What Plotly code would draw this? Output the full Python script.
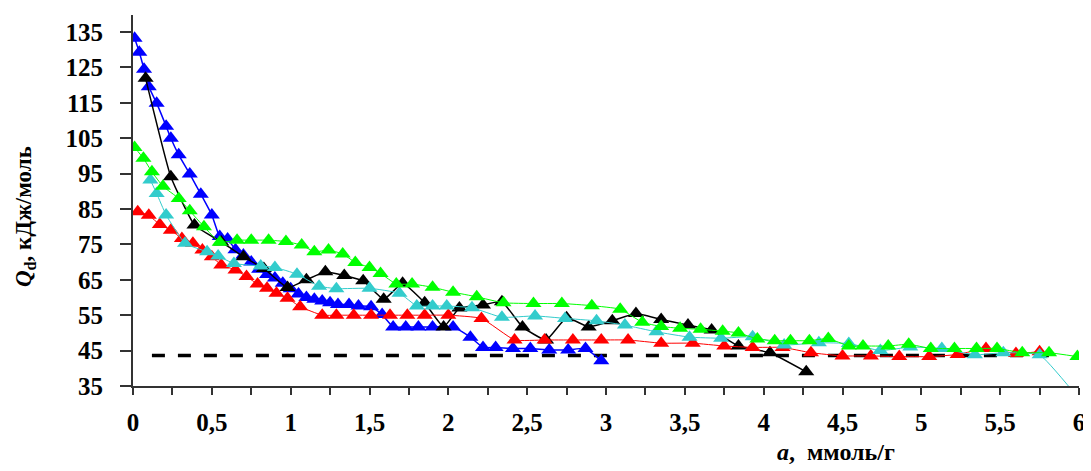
import plotly.graph_objects as go
import numpy as np

# ---- data ----
blue_a = [0.01, 0.04, 0.07, 0.10, 0.15, 0.21, 0.24, 0.29, 0.36, 0.43, 0.50, 0.55, 0.60, 0.65, 0.70,
          0.75, 0.80, 0.85, 0.90, 0.95, 1.00, 1.05, 1.10, 1.15, 1.20, 1.25, 1.30, 1.37, 1.43, 1.51,
          1.58, 1.65, 1.73, 1.81, 1.90, 2.03, 2.14, 2.22, 2.30, 2.41, 2.52, 2.64, 2.76, 2.87, 2.97]
blue_q = [133.2, 129.3, 124.5, 119.5, 114.9, 108.4, 105.0, 100.3, 94.9, 89.2, 83.3, 77.2, 76.5, 73.5, 72.0,
          70.0, 68.0, 66.5, 65.5, 64.0, 62.5, 61.0, 60.0, 59.5, 59.0, 58.5, 58.0, 58.0, 57.6, 57.4,
          55.2, 51.7, 51.7, 51.7, 51.7, 51.7, 48.8, 45.9, 45.9, 45.6, 45.6, 45.2, 45.2, 45.6, 42.1]

black_a = [0.08, 0.24, 0.39, 0.56, 0.70, 0.83, 0.98, 1.10, 1.22, 1.34, 1.46, 1.59, 1.71, 1.85, 1.97,
           2.07, 2.22, 2.34, 2.47, 2.62, 2.75, 2.89, 3.04, 3.19, 3.35, 3.52, 3.67, 3.84, 4.04, 4.27]
black_q = [121.9, 94.1, 80.5, 75.7, 71.5, 68.2, 62.8, 65.0, 67.3, 66.2, 64.7, 59.5, 64.0, 58.5, 51.7,
           57.0, 57.9, 58.8, 51.7, 48.0, 54.3, 51.7, 53.4, 55.5, 53.8, 52.2, 50.8, 46.3, 44.4, 39.0]

red_a = [0.03, 0.10, 0.17, 0.24, 0.31, 0.38, 0.44, 0.50, 0.56, 0.65, 0.72, 0.79, 0.85, 0.91, 0.98,
         1.06, 1.20, 1.29, 1.40, 1.51, 1.63, 1.74, 1.85, 2.00, 2.21, 2.42, 2.61, 2.79, 2.97, 3.14,
         3.35, 3.55, 3.75, 3.93, 4.12, 4.30, 4.50, 4.68, 4.86, 5.05, 5.23, 5.41, 5.60, 5.75]
red_q = [84.2, 83.2, 80.6, 79.0, 76.7, 75.3, 73.4, 71.5, 69.2, 67.8, 65.9, 63.8, 62.6, 61.2, 59.8,
         57.4, 55.0, 55.0, 55.0, 55.0, 55.0, 55.0, 55.0, 55.0, 54.1, 48.0, 48.0, 48.0, 48.0, 48.0,
         47.1, 47.1, 46.3, 45.9, 45.9, 44.4, 43.5, 43.5, 43.3, 43.3, 43.9, 45.6, 44.2, 44.7]

cyan_a = [0.11, 0.15, 0.21, 0.33, 0.47, 0.54, 0.64, 0.81, 0.90, 1.04, 1.18, 1.29, 1.50, 1.69, 1.80,
          1.90, 1.99, 2.15, 2.34, 2.55, 2.74, 2.94, 3.12, 3.32, 3.53, 3.73, 3.93, 4.13, 4.35, 4.54,
          4.74, 4.93, 5.13, 5.34, 5.52, 5.75, 5.97]
cyan_q = [93.2, 89.4, 83.3, 75.3, 72.9, 71.7, 69.6, 68.9, 68.5, 66.6, 63.2, 62.5, 62.6, 61.2, 57.6,
          57.6, 57.6, 57.1, 54.4, 54.8, 54.1, 53.4, 52.2, 50.3, 48.8, 48.5, 48.9, 46.6, 47.2, 47.0,
          45.0, 46.0, 45.6, 43.8, 44.4, 43.8, 33.0]

green_a = [0.01, 0.066, 0.12, 0.19, 0.29, 0.36, 0.45, 0.55, 0.66, 0.75, 0.86, 0.97, 1.07, 1.15, 1.24,
           1.33, 1.41, 1.50, 1.57, 1.67, 1.77, 1.90, 2.03, 2.18, 2.35, 2.54, 2.72, 2.91, 3.09, 3.23,
           3.35, 3.47, 3.60, 3.74, 3.84, 3.96, 4.07, 4.17, 4.29, 4.41, 4.54, 4.63, 4.79, 4.92, 5.06,
           5.21, 5.35, 5.48, 5.64, 5.81, 5.99]
green_q = [102.4, 99.3, 95.5, 91.4, 88.0, 84.5, 80.0, 75.6, 76.2, 76.2, 76.2, 75.8, 74.8, 72.9, 73.4,
           72.3, 69.9, 68.5, 66.8, 63.8, 63.8, 62.9, 61.5, 60.2, 58.5, 58.3, 58.3, 57.7, 56.7, 53.0,
           51.8, 51.3, 51.0, 50.5, 50.0, 48.3, 47.8, 47.8, 47.8, 48.4, 46.3, 46.3, 46.3, 46.8, 45.6,
           45.6, 45.6, 45.6, 44.4, 44.4, 43.3]

dash_a = [0.12, 5.85]
dash_q = [43.6, 43.6]

x_tickvals = [0, 0.5, 1, 1.5, 2, 2.5, 3, 3.5, 4, 4.5, 5, 5.5, 6]
x_ticktext = ["0", "0,5", "1", "1,5", "2", "2,5", "3", "3,5", "4", "4,5", "5", "5,5", "6"]
y_tickvals = [35, 45, 55, 65, 75, 85, 95, 105, 115, 125, 135]
y_ticktext = ["35", "45", "55", "65", "75", "85", "95", "105", "115", "125", "135"]

FONT = "Liberation Serif, Times New Roman, serif"

fig = go.Figure()

fig.add_trace(go.Scatter(x=dash_a, y=dash_q, mode="lines",
                         line=dict(color="black", width=3.5, dash="13px,13px"),
                         hoverinfo="skip"))

series = [
    (blue_a, blue_q, "#0000FF", 1.5),
    (black_a, black_q, "#000000", 1.5),
    (red_a, red_q, "#FF0000", 1.0),
    (cyan_a, cyan_q, "#33CCCC", 1.0),
    (green_a, green_q, "#00FF00", 1.0),
]
for xs, ys, col, lw in series:
    fig.add_trace(go.Scatter(
        x=xs, y=ys, mode="lines+markers",
        line=dict(color=col, width=lw, shape="spline", smoothing=0.4),
        marker=dict(symbol="triangle-up", size=14, color=col, line=dict(width=0)),
    ))

minor_vals = [v for v in np.arange(0.25, 6.0, 0.5)]

# the page body has an 8px margin, so the figure is sized/offset to compensate
FIG_W, FIG_H = 1083, 463
fig.update_layout(
    width=FIG_W, height=FIG_H,
    margin=dict(l=125, r=12, t=7, b=85),
    paper_bgcolor="white", plot_bgcolor="white",
    showlegend=False,
    font=dict(family=FONT, color="black"),
    xaxis=dict(
        range=[0, 6], showgrid=False, zeroline=False, automargin=False,
        showline=True, linecolor="#333333", linewidth=2,
        ticks="outside", ticklen=7, tickwidth=1.5, tickcolor="#333333",
        tickvals=x_tickvals, ticktext=x_ticktext,
        tickfont=dict(family=FONT, size=25, color="black", weight="bold"),
        ticklabelstandoff=6,
        minor=dict(tickvals=minor_vals, ticks="outside", ticklen=7, tickwidth=1.5,
                   tickcolor="#333333", showgrid=False),
    ),
    yaxis=dict(
        range=[35, 139.8], showgrid=False, zeroline=False, automargin=False,
        showline=True, linecolor="#333333", linewidth=2,
        ticks="outside", ticklen=11, tickwidth=1.5, tickcolor="#333333",
        tickvals=y_tickvals, ticktext=y_ticktext,
        tickfont=dict(family=FONT, size=25, color="black", weight="bold"),
        ticklabelstandoff=12,
    ),
)

plot_h = 371
plot_w = 946
fig.add_annotation(
    xref="paper", yref="paper", x=(775 - 133) / plot_w, y=(386 - 452) / plot_h,
    xanchor="left", yanchor="middle", showarrow=False,
    text="<b><i>a</i>,  ммоль/г</b>",
    font=dict(family=FONT, size=24, color="black"),
)
fig.add_annotation(
    xref="paper", yref="paper", x=(25 - 133) / plot_w, y=(386 - 217) / plot_h,
    xanchor="center", yanchor="middle", showarrow=False, textangle=-90,
    text="<b><i>Q</i><sub>d</sub>, кДж/моль</b>",
    font=dict(family=FONT, size=23, color="black"),
)

fig.write_html("out.html")
